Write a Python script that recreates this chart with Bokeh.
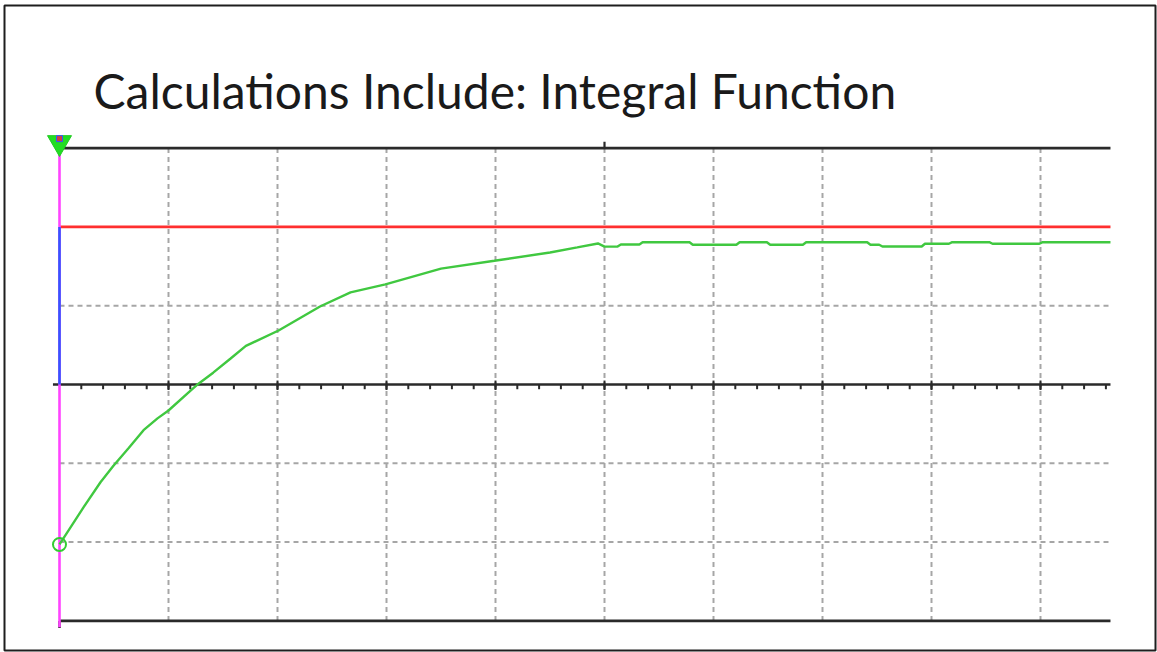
from bokeh.plotting import figure
from bokeh.models import Range1d, Label, ColumnDataSource
from bokeh.embed import file_html
from bokeh.resources import INLINE

# ---- data (time and value in screen divisions) ----
title_text = "Calculations Include: Integral Function"
setpoint = 2.0
time_div = [0.0, 0.22, 0.376, 0.495, 0.633, 0.771, 0.899, 1.0, 1.20, 1.275, 1.41,
            1.57, 1.71, 2.01, 2.39, 2.67, 2.99, 3.50, 3.99, 4.50, 4.75, 4.94, 5.0,
            5.12, 5.15, 5.32, 5.35, 5.78, 5.81, 6.21, 6.24, 6.49, 6.52, 6.82, 6.85,
            7.41, 7.44, 7.52, 7.55, 7.91, 7.94, 8.16, 8.19, 8.53, 8.56, 8.99, 9.02,
            9.642]
process_value = [-2.03, -1.56, -1.24, -1.03, -0.81, -0.58, -0.43, -0.33, -0.08, 0.01,
                 0.15, 0.33, 0.49, 0.685, 0.99, 1.17, 1.27, 1.47, 1.57, 1.675, 1.74,
                 1.79, 1.75, 1.75, 1.777, 1.777, 1.806, 1.806, 1.773, 1.773, 1.806,
                 1.806, 1.773, 1.773, 1.806, 1.806, 1.773, 1.773, 1.751, 1.751,
                 1.786, 1.786, 1.806, 1.806, 1.786, 1.786, 1.806, 1.806]
grid_x = [1, 2, 3, 4, 5, 6, 7, 8, 9]
grid_y_dashed = [1, -1, -2]
solid_y = [3, 0, -3]
t_end = 9.642
minor_ticks = [i * 0.2 for i in range(1, 49)]

W, H = 1157, 652
BL, BT, BR, BB = 4, 5, 2, 2
FW, FH = W - BL - BR, H - BT - BB
X0, DX = 59 - BL, 109.0     # frame px of t=0, px per division
Y0, DY = 384 - BT, 78.8     # frame px (from top) of v=0, px per division

p = figure(width=W, height=H, output_backend="svg", toolbar_location=None,
           x_range=Range1d(-X0 / DX, (FW - X0) / DX),
           y_range=Range1d(-(FH - Y0) / DY, Y0 / DY),
           min_border_left=BL, min_border_top=BT, min_border_right=BR,
           min_border_bottom=BB, border_fill_color="white",
           background_fill_color="white",
           outline_line_color="#1e1e1e", outline_line_width=2)
p.axis.visible = False
p.grid.visible = False

# dashed grid
p.segment(x0=grid_x, y0=[-3] * len(grid_x), x1=grid_x, y1=[3] * len(grid_x),
          line_color="#a6a6a6", line_width=2, line_dash="5 4")
p.segment(x0=[0] * 3, y0=grid_y_dashed, x1=[t_end] * 3, y1=grid_y_dashed,
          line_color="#a6a6a6", line_width=2, line_dash="5 4")

# solid black lines
p.segment(x0=[0, -0.06, 0], y0=solid_y, x1=[t_end] * 3, y1=solid_y,
          line_color="#2a2a2a", line_width=2.6)

# ticks on zero line
p.segment(x0=minor_ticks, y0=[0] * len(minor_ticks), x1=minor_ticks,
          y1=[-0.06] * len(minor_ticks), line_color="#2a2a2a", line_width=2)
p.segment(x0=grid_x, y0=[0.05] * len(grid_x), x1=grid_x, y1=[-0.07] * len(grid_x),
          line_color="#2a2a2a", line_width=2)
p.segment(x0=[5], y0=[3], x1=[5], y1=[3.08], line_color="#2a2a2a", line_width=2.2)
p.segment(x0=[0], y0=[-3], x1=[0], y1=[-3.09], line_color="#2a2a2a", line_width=2.6)

# setpoint
p.segment(x0=[0], y0=[setpoint], x1=[t_end], y1=[setpoint],
          line_color="#ff2f2f", line_width=2.6)

# left cursor line
p.segment(x0=[0], y0=[3.1], x1=[0], y1=[-3.08], line_color="#ff44ff", line_width=2.6)
p.segment(x0=[0], y0=[setpoint], x1=[0], y1=[0], line_color="#3355ff", line_width=2.6)

# process value
src = ColumnDataSource(dict(t=time_div, v=process_value))
p.line("t", "v", source=src, line_color="#40c840", line_width=2.4)
p.scatter([time_div[0]], [process_value[0]], marker="circle", size=13,
          fill_color=None, line_color="#33cc33", line_width=2)

# trigger marker
p.scatter([0], [3.07], marker="inverted_triangle", size=24,
          fill_color="#22dd22", line_color="#22cc22")
p.scatter([0], [3.12], marker="square", size=6, fill_color="#d04040",
          line_color="#3355ff", line_width=1)

p.add_layout(Label(x=93 - BL, y=(H - BB) - 90, x_units="screen", y_units="screen",
                   text=title_text, text_font="Lato", text_font_size="48px",
                   text_color="#1a1a1a", text_baseline="alphabetic"))

open("out.html", "w").write(file_html(p, INLINE))
